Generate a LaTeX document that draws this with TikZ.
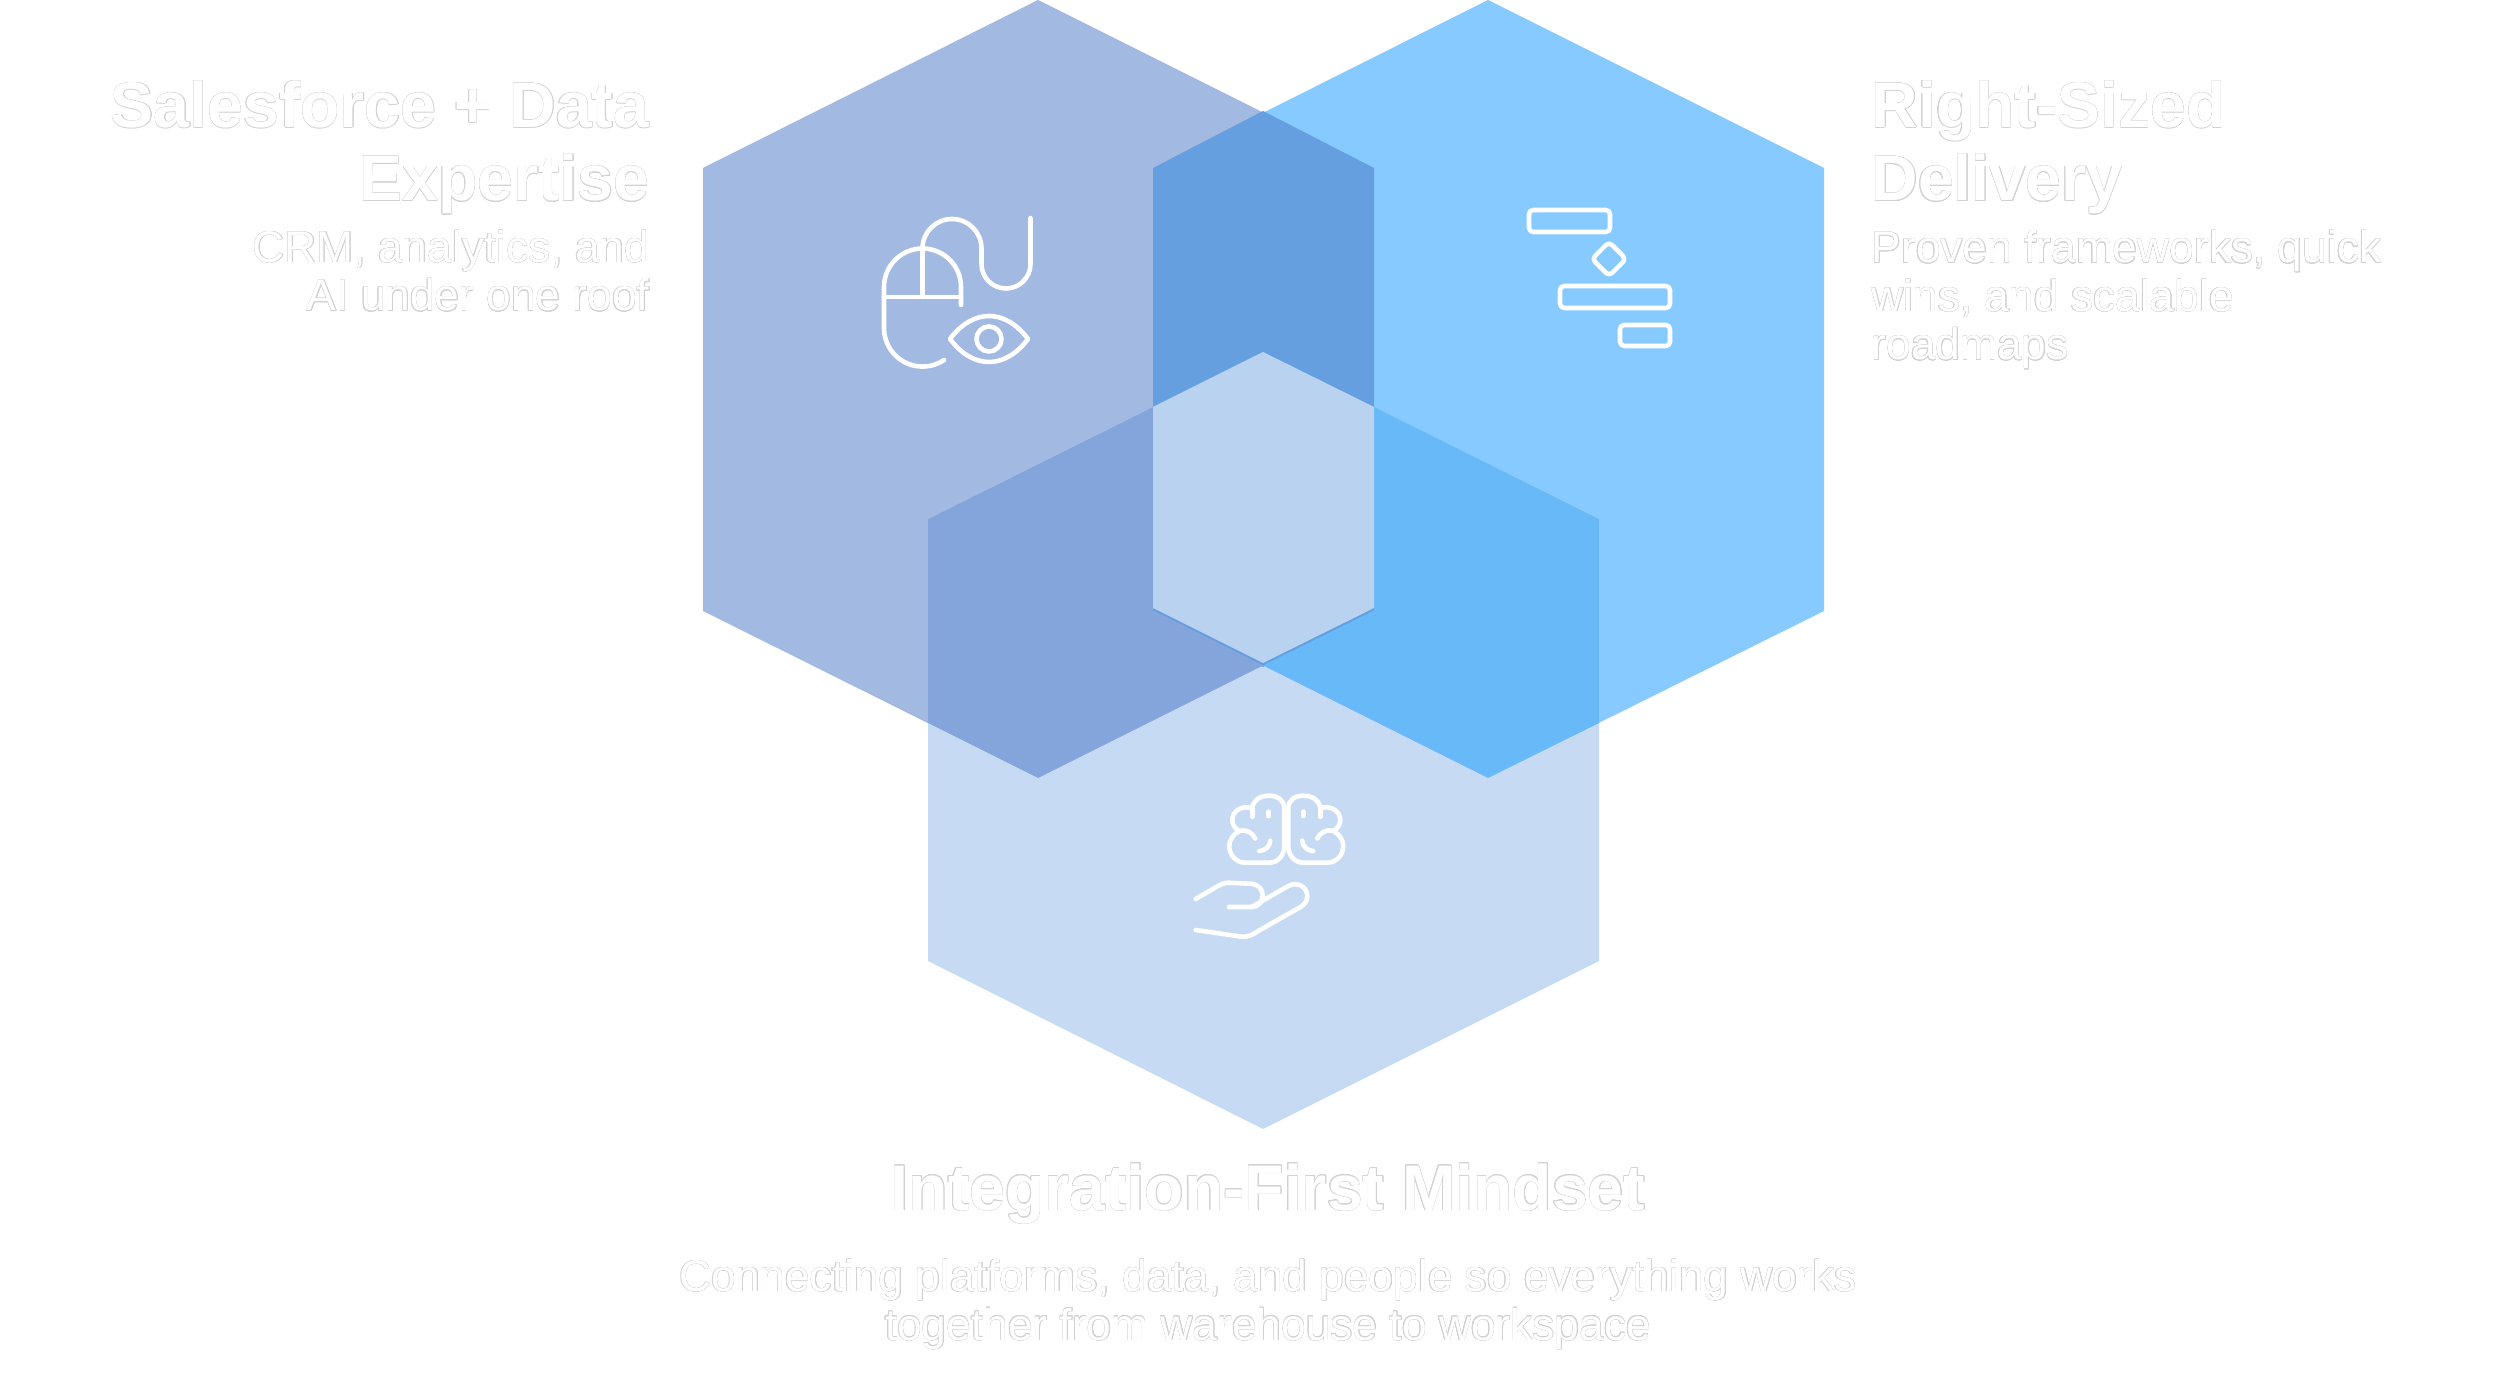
\documentclass[tikz,border=0pt]{standalone}
\usepackage{fontspec}
\setmainfont{Liberation Sans}
\usepackage[copies]{contour}
\contournumber{16}
\contourlength{0.1pt}
\definecolor{hexa}{HTML}{A2B9E2}
\definecolor{hexb}{HTML}{86CAFF}
\definecolor{hexc}{HTML}{C6DBF3}
\definecolor{hexab}{HTML}{659FE0}
\definecolor{hexac}{HTML}{84A5DB}
\definecolor{hexbc}{HTML}{67B9F7}
\definecolor{hexabc}{HTML}{B8D2F0}
\definecolor{halocol}{HTML}{D2D2D2}
\newcommand{\halo}[1]{\contour{halocol}{#1}}
\tikzset{
	icon/.style={draw=white,line width=1.3pt,line cap=round,line join=round},
	bar/.style={icon,rounded corners=1.2pt},
	title/.style={text=white,font=\fontsize{18.3}{20.85}\selectfont\bfseries,inner sep=0pt},
	desc/.style={text=white,font=\fontsize{12.6}{13.8}\selectfont,inner sep=0pt}
}
\begin{document}
\begin{tikzpicture}[x=0.01cm,y=-0.01cm]
	\useasboundingbox (0,0) rectangle (2500,1377);
	\fill [white] (0,0) rectangle (2500,1377);

	\fill [hexa] (1038,0) -- (1374,168) -- (1374,611) -- (1038,778) -- (703,611) -- (703,168) -- cycle;
	\fill [hexb] (1488,0) -- (1824,168) -- (1824,611) -- (1488,778) -- (1153,611) -- (1153,168) -- cycle;
	\fill [hexc] (1263,352) -- (1599,519) -- (1599,961) -- (1263,1129) -- (928,961) -- (928,519) -- cycle;
	\fill [hexab] (1263,111) -- (1374,168) -- (1374,612) -- (1263,667) -- (1153,612) -- (1153,168) -- cycle;
	\fill [hexac] (928,519) -- (1153,407) -- (1153,610.5) -- (1263,665.5) -- (1038,778) -- (928,723) -- cycle;
	\fill [hexbc] (1599,519) -- (1374,407) -- (1374,610.5) -- (1263,665.5) -- (1488,778) -- (1599,723) -- cycle;
	\fill [hexabc] (1263,352) -- (1374,407) -- (1374,608) -- (1263,663) -- (1153,608) -- (1153,407) -- cycle;

	\draw [icon] (944,360) arc (56:180:38.5) -- (884,287) arc (180:360:38.5) -- (961,305);
	\draw [icon] (884,297) -- (961,297);
	\draw [icon] (922.5,248.5) -- (922.5,297);
	\draw [icon] (922.5,248.5) arc (180:360:29.5) -- (981.5,264) arc (180:0:24.5) -- (1030.5,218);
	\draw [icon] (950,339) .. controls (962,323) and (976,316) .. (989,316) .. controls (1002,316) and (1016,323) .. (1028,339) .. controls (1016,355) and (1002,362) .. (989,362) .. controls (976,362) and (962,355) .. (950,339) -- cycle;
	\draw [icon] (989,339) circle (12.5);

	\draw [bar] (1529,210) rectangle (1610,232);
	\draw [bar] (1609,242) -- (1626,259) -- (1609,276) -- (1592,259) -- cycle;
	\draw [bar] (1560,286) rectangle (1670,308);
	\draw [bar] (1620,325) rectangle (1670,346);

	\foreach \s in {1,-1} {
		\begin{scope}[xshift=12.855cm,xscale=\s]
			\draw [icon] (-2,808) .. controls (-2,800) and (-9,795.7) .. (-17,795.7) .. controls (-26,795.7) and (-33,800) .. (-34,808) .. controls (-46,805) and (-54,812) .. (-54,820) .. controls (-54,825) and (-51,829) .. (-47,831) .. controls (-53,834) and (-57,840) .. (-57,846) .. controls (-57,855) and (-50,862.7) .. (-41,862.7) -- (-17,862.7) .. controls (-8,862.7) and (-2,855) .. (-2,846) -- cycle;
			\draw [icon] (-34,808) -- (-34,816.7);
			\draw [icon] (-17.5,811.7) -- (-17.5,816);
			\draw [icon] (-47,831) .. controls (-39,829) and (-34,833) .. (-31,838.5);
			\draw [icon] (-16,840.7) .. controls (-16,846) and (-21,851) .. (-27,851);
		\end{scope}
	}

	\draw [icon] (1195.7,899) -- (1216.7,886.7) .. controls (1220,885) and (1224,882.7) .. (1228.3,882.7) -- (1250,883.7) .. controls (1258,884) and (1262.7,889) .. (1262.7,895) .. controls (1262.7,902) and (1258,907) .. (1251.7,907) -- (1229,907);
	\draw [icon] (1251.7,907) -- (1288.3,886) .. controls (1298,881) and (1307.3,887) .. (1307.3,896.7) .. controls (1307.3,902) and (1303,906) .. (1298.3,908.3) -- (1260,930) .. controls (1254,934) and (1248,937.5) .. (1241.7,936.7) -- (1195.7,930);

	\node [title,anchor=base east,align=right] (expertise) at (650,201) {\halo{Salesforce + Data}\\\halo{Expertise}};
	\node [desc,anchor=base east,align=right] (expertisetext) at (650,311) {\halo{CRM, analytics, and}\\\halo{AI under one roof}};
	\node [title,anchor=base west,align=left] (delivery) at (1871,201) {\halo{Right-Sized}\\\halo{Delivery}};
	\node [desc,anchor=base west,align=left] (deliverytext) at (1871,360) {\halo{Proven frameworks, quick}\\\halo{wins, and scalable}\\\halo{roadmaps}};
	\node [title,anchor=base] (mindset) at (1268,1210) {\halo{Integration-First Mindset}};
	\node [desc,anchor=base,align=center] (mindsettext) at (1268,1340) {\halo{Connecting platforms, data, and people so everything works}\\\halo{together from warehouse to workspace}};
\end{tikzpicture}
\end{document}
